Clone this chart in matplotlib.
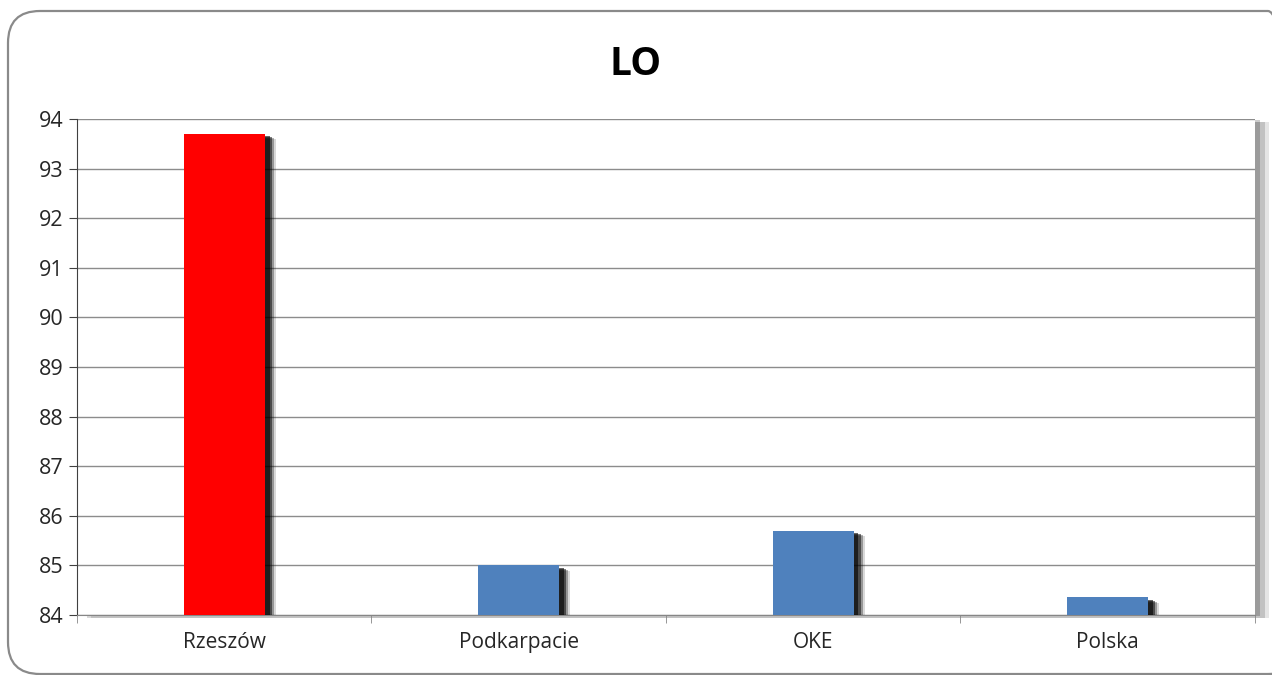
import matplotlib.pyplot as plt
import matplotlib.patheffects as pe
from matplotlib.patches import FancyBboxPatch

categories = ["Rzeszów", "Podkarpacie", "OKE", "Polska"]
values = [93.7, 85.0, 85.7, 84.36]
colors = ["#ff0000", "#4f81bd", "#4f81bd", "#4f81bd"]

plt.rcParams['font.family'] = ['Open Sans', 'DejaVu Sans']

fig = plt.figure(figsize=(12.72, 6.75), dpi=100)

# rounded border round the chart (runs off the right edge), in inches
border = FancyBboxPatch((0.08, 0.01), 12.92, 6.63,
                        boxstyle="round,pad=0,rounding_size=0.32",
                        transform=fig.dpi_scale_trans, fill=False,
                        edgecolor="#8a8a8a", linewidth=1.6, clip_on=False)
fig.patches.append(border)

ax = fig.add_axes([0.0605, 0.0889, 0.926, 0.7348])
# shadow on the plot area
ax.patch.set_path_effects([pe.SimplePatchShadow(offset=(10, -2), shadow_rgbFace="black", alpha=0.1),
                           pe.SimplePatchShadow(offset=(7, -2), shadow_rgbFace="black", alpha=0.15),
                           pe.SimplePatchShadow(offset=(4, -1), shadow_rgbFace="black", alpha=0.2),
                           pe.Normal()])

# soft shadows behind bars
shadow = [pe.SimplePatchShadow(offset=(o, -o * 0.5), shadow_rgbFace="black", alpha=a)
          for o, a in [(8, 0.15), (6.5, 0.3), (5, 0.5), (3.5, 0.6)]]
x = list(range(len(categories)))
ax.bar(x, [v - 84 for v in values], bottom=84, width=0.275, color=colors,
       zorder=3, path_effects=shadow + [pe.Normal()])

ax.set_xlim(-0.5, len(categories) - 0.5)
ax.set_ylim(84, 94)
ax.set_yticks(range(84, 95))
ax.set_xticks(x)
ax.set_xticklabels(categories, fontsize=15, color="#262626")
ax.tick_params(axis='y', labelsize=15.5, length=6, direction='out', color="#404040",
               labelcolor="#262626")
ax.tick_params(axis='x', length=0, pad=12)
ax.set_xticks([i + 0.5 for i in range(-1, len(categories))], minor=True)
ax.tick_params(axis='x', which='minor', length=6, color="#868686")

ax.grid(axis='y', color="#8c8c8c", linewidth=1, zorder=0)
ax.set_axisbelow(True)
ax.spines["top"].set_visible(False)
ax.spines["right"].set_visible(False)
ax.spines["left"].set_color("#404040")
ax.spines["bottom"].set_color("#868686")

fig.text(0.5, 0.905, "LO", ha="center", va="center", fontsize=28, fontweight="bold")

fig.savefig("out.png", dpi=100)
